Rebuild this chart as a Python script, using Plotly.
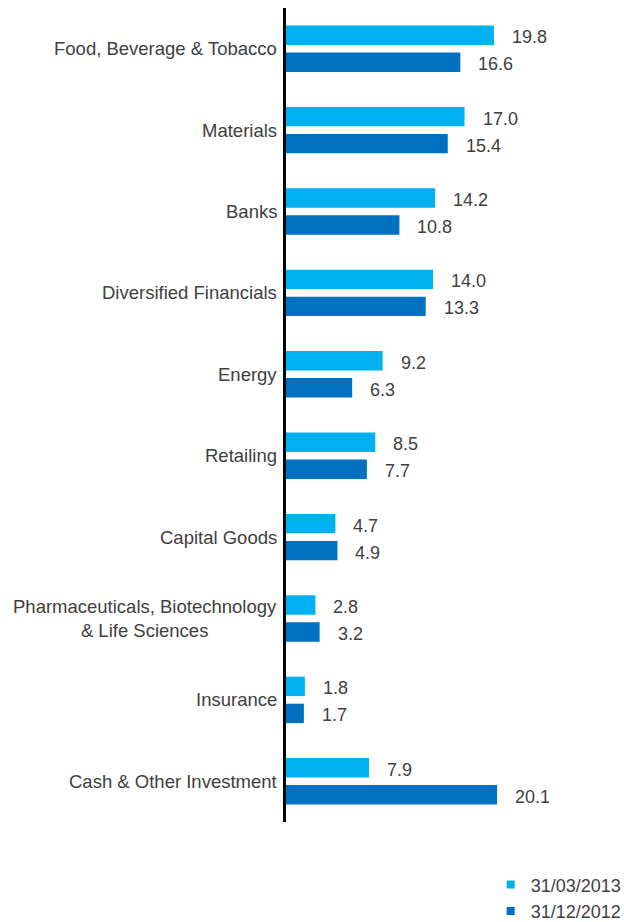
import plotly.graph_objects as go

categories = [
    "Food, Beverage & Tobacco",
    "Materials",
    "Banks",
    "Diversified Financials",
    "Energy",
    "Retailing",
    "Capital Goods",
    "Pharmaceuticals, Biotechnology<br>& Life Sciences",
    "Insurance",
    "Cash & Other Investment",
]
series_names = ["31/03/2013", "31/12/2012"]
values_mar2013 = [19.8, 17.0, 14.2, 14.0, 9.2, 8.5, 4.7, 2.8, 1.8, 7.9]
values_dec2012 = [16.6, 15.4, 10.8, 13.3, 6.3, 7.7, 4.9, 3.2, 1.7, 20.1]
colors = ["#00B0F0", "#0070C0"]

FONT = "Liberation Sans, Arial, sans-serif"
TXT = "#404040"

fig = go.Figure()
for name, vals, col in zip(series_names, [values_mar2013, values_dec2012], colors):
    fig.add_trace(go.Bar(
        y=categories, x=vals, orientation="h", name=name,
        marker=dict(color=col, line=dict(width=0)),
        showlegend=False, hoverinfo="x+y",
    ))
    # legend entry with small square marker
    fig.add_trace(go.Scatter(
        x=[None], y=[None], mode="markers", name=name, legendgroup=name,
        marker=dict(symbol="square", size=8, color=col),
        showlegend=True,
    ))

annotations = []
# category labels
for cat in categories:
    annotations.append(dict(
        x=0, y=cat, xref="x", yref="y", text=cat, showarrow=False,
        xanchor="right", yanchor="middle", align="center", xshift=-7,
        font=dict(family=FONT, size=18.5, color=TXT),
    ))
# value labels
for vals, ysh in zip([values_mar2013, values_dec2012], [11.5, -15.5]):
    for cat, v in zip(categories, vals):
        annotations.append(dict(
            x=v, y=cat, xref="x", yref="y", text=f"{v:.1f}", showarrow=False,
            xanchor="left", yanchor="middle", xshift=16, yshift=ysh,
            font=dict(family=FONT, size=18, color=TXT),
        ))

fig.update_layout(
    width=624, height=922,
    margin=dict(l=286, r=4, t=8, b=100, autoexpand=False),
    paper_bgcolor="white", plot_bgcolor="white",
    barmode="group", bargap=0.337, bargroupgap=0.28,
    font=dict(family=FONT, size=18, color=TXT),
    showlegend=True,
    annotations=annotations,
    legend=dict(
        x=1.02, xanchor="right", y=-0.0545, yanchor="top",
        orientation="v", font=dict(family=FONT, size=18, color=TXT),
        itemwidth=30, tracegroupgap=0, bgcolor="rgba(0,0,0,0)",
    ),
    xaxis=dict(range=[0, 31.8], visible=False, showgrid=False, zeroline=False),
    yaxis=dict(
        autorange="reversed", showline=True, linecolor="black", linewidth=3,
        ticks="", showgrid=False, showticklabels=False,
    ),
)

fig.write_html("out.html")
